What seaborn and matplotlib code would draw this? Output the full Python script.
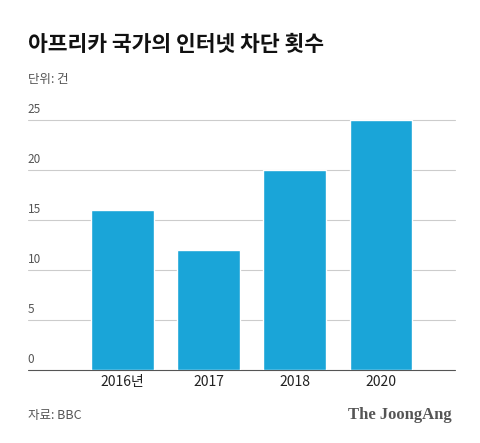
import matplotlib.pyplot as plt
import matplotlib.transforms as mtransforms
import seaborn as sns
import pandas as pd

years = ["2016년", "2017", "2018", "2020"]
counts = [16, 12, 20, 25]
yticks = [0, 5, 10, 15, 20, 25]

sns.set_style("white")
plt.rcParams['font.family'] = ['Noto Sans CJK KR', 'DejaVu Sans']

fig = plt.figure(figsize=(4.8, 4.43), dpi=100)
ax = fig.add_axes([0.058, 0.165, 0.89, 0.564])

df = pd.DataFrame({"year": years, "count": counts})
sns.barplot(data=df, x="year", y="count", color="#1aa5d8", saturation=1,
            width=0.73, ax=ax, zorder=3)

ax.set_xlim(-1.10, 3.86)
ax.set_ylim(0, 25)
ax.set_xlabel("")
ax.set_ylabel("")
ax.set_yticks([])
for s in ax.spines.values():
    s.set_visible(False)

trans = mtransforms.blended_transform_factory(ax.transAxes, ax.transData)
for v in yticks:
    ax.axhline(v, color="#555555" if v == 0 else "#cccccc", lw=0.8, zorder=1,
               clip_on=False)
    ax.text(0.0, v + 0.4, str(v), transform=trans, fontsize=8.5,
            color="#555555", va="bottom", ha="left")

ax.tick_params(axis="x", length=0, labelsize=10, colors="#222222", pad=4)

fig.text(0.058, 0.9, "아프리카 국가의 인터넷 차단 횟수", fontsize=15.5,
         fontweight="bold", color="#111111", va="center")
fig.text(0.058, 0.82, "단위: 건", fontsize=9, color="#555555", va="center")
fig.text(0.058, 0.063, "자료: BBC", fontsize=9, color="#555555", va="center")
fig.text(0.94, 0.063, "The JoongAng", fontsize=12, fontweight="bold",
         family="Liberation Serif", color="#555555", va="center", ha="right")

fig.savefig("out.png", dpi=100)
